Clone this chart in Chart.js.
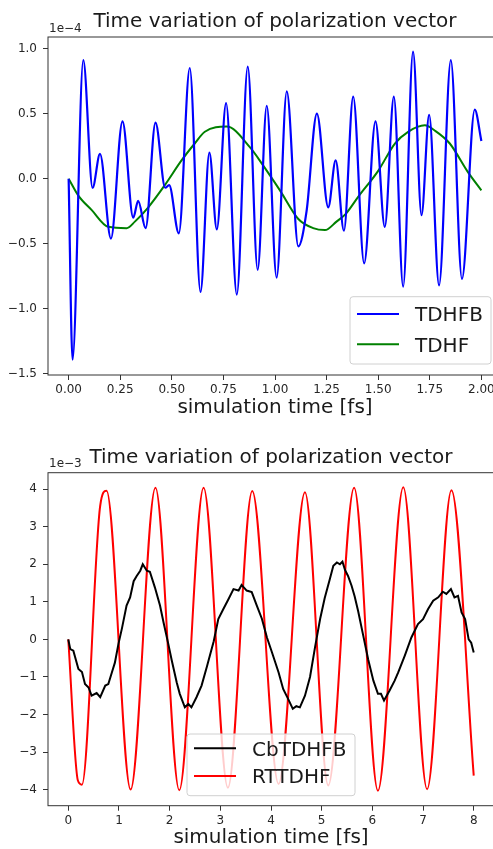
<!DOCTYPE html>
<html>
<head>
<meta charset="utf-8">
<title>Time variation of polarization vector</title>
<script src="https://cdn.jsdelivr.net/npm/chart.js@4.4.1/dist/chart.umd.min.js"></script>
<style>
    html, body { margin: 0; padding: 0; background: #fff; overflow: hidden; }
    #page { position: relative; width: 493px; height: 849px; overflow: hidden; background: #fff; }
    #page canvas { position: absolute; left: 0; }
    #chart-top { top: 0; }
    #chart-bottom { top: 430px; }
</style>
</head>
<body>
<div id="page">
    <canvas id="chart-top" width="520" height="425"></canvas>
    <canvas id="chart-bottom" width="520" height="425"></canvas>
</div>
<script>
// ==================== DATOS ====================
const TITULO = 'Time variation of polarization vector';
const EJE_X = 'simulation time [fs]';

// Panel superior (valores en unidades de 1e-4)
const TOP_OFFSET = '1e\u22124';
const TOP_X_TICKS = [0, 0.25, 0.5, 0.75, 1.0, 1.25, 1.5, 1.75, 2.0];
const TOP_Y_TICKS = [-1.5, -1.0, -0.5, 0.0, 0.5, 1.0];

const tdhfbT = [0, 0.019, 0.071, 0.116, 0.152, 0.205, 0.261, 0.313, 0.337, 0.373, 0.421, 0.468, 0.487,
    0.534, 0.587, 0.639, 0.682, 0.718, 0.763, 0.815, 0.868, 0.916, 0.960, 1.008, 1.057, 1.113, 1.153,
    1.203, 1.258, 1.294, 1.334, 1.379, 1.432, 1.487, 1.532, 1.576, 1.621, 1.669, 1.710, 1.747, 1.795,
    1.852, 1.906, 1.968, 2.0];
const tdhfbV = [0, -1.39, 0.91, -0.07, 0.19, -0.46, 0.44, -0.30, -0.17, -0.38, 0.43, -0.07, -0.05,
    -0.42, 0.85, -0.87, 0.20, -0.39, 0.58, -0.89, 0.86, -0.70, 0.56, -0.76, 0.67, -0.52, -0.25,
    0.50, -0.22, 0.14, -0.40, 0.63, -0.65, 0.44, -0.37, 0.63, -0.83, 0.975, -0.28, 0.49, -0.82,
    0.91, -0.77, 0.53, 0.29];

const tdhfT = [0, 0.047, 0.111, 0.192, 0.281, 0.321, 0.386, 0.466, 0.547, 0.611, 0.66, 0.766, 0.879,
    0.943, 1.024, 1.113, 1.185, 1.242, 1.298, 1.343, 1.403, 1.500, 1.581, 1.645, 1.726, 1.774, 1.847,
    1.935, 2.0];
const tdhfV = [0, -0.13, -0.24, -0.37, -0.38, -0.33, -0.22, -0.05, 0.14, 0.27, 0.36, 0.40, 0.24,
    0.10, -0.09, -0.31, -0.38, -0.395, -0.33, -0.27, -0.14, 0.06, 0.27, 0.36, 0.41, 0.37, 0.27,
    0.05, -0.09];

// Panel inferior (valores en unidades de 1e-3)
const BOT_OFFSET = '1e\u22123';
const BOT_X_TICKS = [0, 1, 2, 3, 4, 5, 6, 7, 8];
const BOT_Y_TICKS = [-4, -3, -2, -1, 0, 1, 2, 3, 4];

const cbT = [0, 0.04, 0.10, 0.20, 0.27, 0.33, 0.40, 0.46, 0.56, 0.63, 0.73, 0.79, 0.86, 0.92, 0.99,
    1.06, 1.15, 1.22, 1.29, 1.35, 1.42, 1.47, 1.55, 1.61, 1.71, 1.81, 1.88, 1.97, 2.04, 2.14, 2.20,
    2.30, 2.37, 2.43, 2.53, 2.63, 2.74, 2.87, 2.96, 3.06, 3.16, 3.26, 3.36, 3.42, 3.52, 3.62, 3.72,
    3.82, 3.92, 4.02, 4.15, 4.24, 4.34, 4.43, 4.50, 4.57, 4.67, 4.77, 4.87, 4.97, 5.06, 5.16, 5.23,
    5.30, 5.36, 5.41, 5.46, 5.52, 5.59, 5.65, 5.72, 5.82, 5.92, 6.02, 6.11, 6.17, 6.23, 6.34, 6.44,
    6.51, 6.64, 6.77, 6.90, 7.00, 7.10, 7.20, 7.30, 7.39, 7.46, 7.55, 7.62, 7.69, 7.76, 7.83, 7.90,
    7.95, 8.0];
const cbV = [0, -0.26, -0.30, -0.79, -0.87, -1.19, -1.28, -1.50, -1.43, -1.54, -1.23, -1.19, -0.88, -0.62, -0.12,
    0.30, 0.90, 1.12, 1.55, 1.69, 1.83, 2.00, 1.83, 1.80, 1.38, 0.90, 0.45, -0.10, -0.55, -1.15, -1.45,
    -1.81, -1.72, -1.81, -1.54, -1.23, -0.70, -0.05, 0.54, 0.81, 1.07, 1.34, 1.30, 1.45, 1.30, 1.26, 0.90,
    0.55, 0.05, -0.35, -0.88, -1.32, -1.59, -1.85, -1.78, -1.81, -1.50, -1.00, -0.20, 0.55, 1.10, 1.60, 1.96,
    2.05, 2.00, 2.07, 1.85, 1.69, 1.43, 1.15, 0.75, 0.10, -0.55, -1.10, -1.45, -1.45, -1.63, -1.36, -1.10,
    -0.88, -0.43, 0.05, 0.41, 0.54, 0.81, 1.03, 1.12, 1.27, 1.21, 1.34, 1.12, 1.16, 0.72, 0.54, 0.00,
    -0.09, -0.35];

const rtT = [0, 0.19, 0.27, 0.63, 0.755, 1.23, 1.72, 2.19, 2.67, 3.15, 3.63, 4.15, 4.67, 5.13, 5.64,
    6.11, 6.61, 7.08, 7.56, 8.0];
const rtV = [0, -3.76, -3.87, 3.56, 3.96, -4.00, 4.04, -4.02, 4.04, -3.95, 3.95, -3.85, 3.92, -3.89, 4.04,
    -4.03, 4.05, -3.99, 3.97, -3.63];

// ==================== HELPERS ====================
Chart.defaults.font.family = "'DejaVu Sans', sans-serif";
Chart.defaults.color = '#262626';

const puntos = (ts, vs) => ts.map((t, i) => ({ x: t, y: vs[i] }));
const fmt = (v, dec) => v.toFixed(dec).replace('-', '\u2212');

// marco del area de datos (spines de matplotlib)
const marco = {
    id: 'marco',
    afterDatasetsDraw(chart) {
        const { ctx, chartArea: a } = chart;
        ctx.save();
        ctx.strokeStyle = '#333';
        ctx.lineWidth = 1;
        ctx.strokeRect(a.left, a.top, a.right - a.left, a.bottom - a.top);
        ctx.restore();
    },
};

// texto de offset "1e-4" arriba a la izquierda
const offsetTexto = {
    id: 'offsetTexto',
    afterDraw(chart, args, opts) {
        if (!opts.text) return;
        const { ctx, chartArea: a } = chart;
        ctx.save();
        ctx.font = "12px 'DejaVu Sans'";
        ctx.fillStyle = '#262626';
        ctx.textBaseline = 'alphabetic';
        ctx.fillText(opts.text, a.left + 1, a.top - 5.3);
        ctx.restore();
    },
};

// leyenda con caja dentro del grafico
const leyendaCaja = {
    id: 'leyendaCaja',
    afterDraw(chart, args, opts) {
        if (!opts.box) return;
        const { ctx } = chart;
        const b = opts.box;
        ctx.save();
        ctx.fillStyle = 'rgba(255,255,255,0.8)';
        ctx.strokeStyle = '#d0d0d0';
        ctx.lineWidth = 1;
        ctx.beginPath();
        ctx.roundRect(b.x, b.y, b.w, b.h, 3);
        ctx.fill();
        ctx.stroke();
        ctx.font = `${opts.fontSize}px 'DejaVu Sans'`;
        ctx.textBaseline = 'alphabetic';
        chart.data.datasets.forEach((ds, i) => {
            const y = b.y + opts.rows[i];
            ctx.strokeStyle = ds.borderColor;
            ctx.lineWidth = ds.borderWidth;
            ctx.beginPath();
            ctx.moveTo(b.x + opts.handle[0], y);
            ctx.lineTo(b.x + opts.handle[1], y);
            ctx.stroke();
            ctx.fillStyle = '#1a1a1a';
            ctx.fillText(ds.label, b.x + opts.textX, y + opts.fontSize * 0.365);
        });
        ctx.restore();
    },
};

function crearGrafico(canvasId, datasets, o) {
    return new Chart(document.getElementById(canvasId), {
        type: 'line',
        data: { datasets },
        plugins: [marco, offsetTexto, leyendaCaja],
        options: {
            responsive: false,
            animation: false,
            devicePixelRatio: 1,
            layout: { padding: { left: 0, top: 0, right: o.padRight, bottom: 0 } },
            elements: { point: { radius: 0 } },
            plugins: {
                legend: { display: false },
                tooltip: { enabled: false },
                title: {
                    display: true,
                    text: TITULO,
                    fullSize: false,
                    color: '#1a1a1a',
                    font: { size: 20, weight: 'normal', lineHeight: 1.2 },
                    padding: o.titlePad,
                },
                offsetTexto: { text: o.offset },
                leyendaCaja: o.legend,
            },
            scales: {
                x: {
                    type: 'linear',
                    min: o.xMin,
                    max: o.xMax,
                    afterBuildTicks: s => { s.ticks = o.xTicks.map(v => ({ value: v })); },
                    afterFit: s => { s.height = o.xAxisH; },
                    ticks: { callback: v => fmt(v, o.xDec), font: { size: 12 }, color: '#262626', padding: 3, maxRotation: 0, autoSkip: false },
                    grid: { drawOnChartArea: false, drawTicks: true, tickLength: 5, tickColor: '#333' },
                    border: { display: false },
                    title: { display: true, text: EJE_X, color: '#1a1a1a', font: { size: 20, lineHeight: 1.2 }, padding: { top: 0, bottom: 5 } },
                },
                y: {
                    type: 'linear',
                    min: o.yMin,
                    max: o.yMax,
                    afterBuildTicks: s => { s.ticks = o.yTicks.map(v => ({ value: v })); },
                    afterFit: s => { s.width = o.yAxisW; },
                    ticks: { callback: v => fmt(v, o.yDec), font: { size: 12 }, color: '#262626', padding: 6 },
                    grid: { drawOnChartArea: false, drawTicks: true, tickLength: 5, tickColor: '#333' },
                    border: { display: false },
                },
            },
        },
    });
}

// ==================== PANEL SUPERIOR ====================
crearGrafico('chart-top', [
    {
        label: 'TDHFB',
        data: puntos(tdhfbT, tdhfbV),
        borderColor: '#0000ff',
        borderWidth: 2.2,
        cubicInterpolationMode: 'monotone',
    },
    {
        label: 'TDHF',
        data: puntos(tdhfT, tdhfV),
        borderColor: '#008000',
        borderWidth: 2,
        cubicInterpolationMode: 'monotone',
    },
], {
    padRight: 18,
    titlePad: { top: 9.4, bottom: 3.6 },
    xMin: -0.1, xMax: 2.1, xTicks: TOP_X_TICKS, xDec: 2, xAxisH: 50,
    yMin: -1.508, yMax: 1.088, yTicks: TOP_Y_TICKS, yDec: 1, yAxisW: 48,
    offset: TOP_OFFSET,
    legend: { box: { x: 350, y: 296.7, w: 141, h: 67.3 }, rows: [17.3, 47.6], handle: [7, 49], textX: 65, fontSize: 20 },
});

// ==================== PANEL INFERIOR ====================
crearGrafico('chart-bottom', [
    {
        label: 'CbTDHFB',
        data: puntos(cbT, cbV),
        borderColor: '#000000',
        borderWidth: 2,
        tension: 0,
    },
    {
        label: 'RTTDHF',
        data: puntos(rtT, rtV),
        borderColor: '#ff0000',
        borderWidth: 2,
        cubicInterpolationMode: 'monotone',
    },
], {
    padRight: 26,
    titlePad: { top: 16.1, bottom: 2.6 },
    xMin: -0.4, xMax: 8.4, xTicks: BOT_X_TICKS, xDec: 0, xAxisH: 49.3,
    yMin: -4.43, yMax: 4.44, yTicks: BOT_Y_TICKS, yDec: 0, yAxisW: 48,
    offset: BOT_OFFSET,
    legend: { box: { x: 187, y: 304, w: 168, h: 61.7 }, rows: [14.3, 42], handle: [7, 49], textX: 65, fontSize: 20 },
});
</script>
</body>
</html>
